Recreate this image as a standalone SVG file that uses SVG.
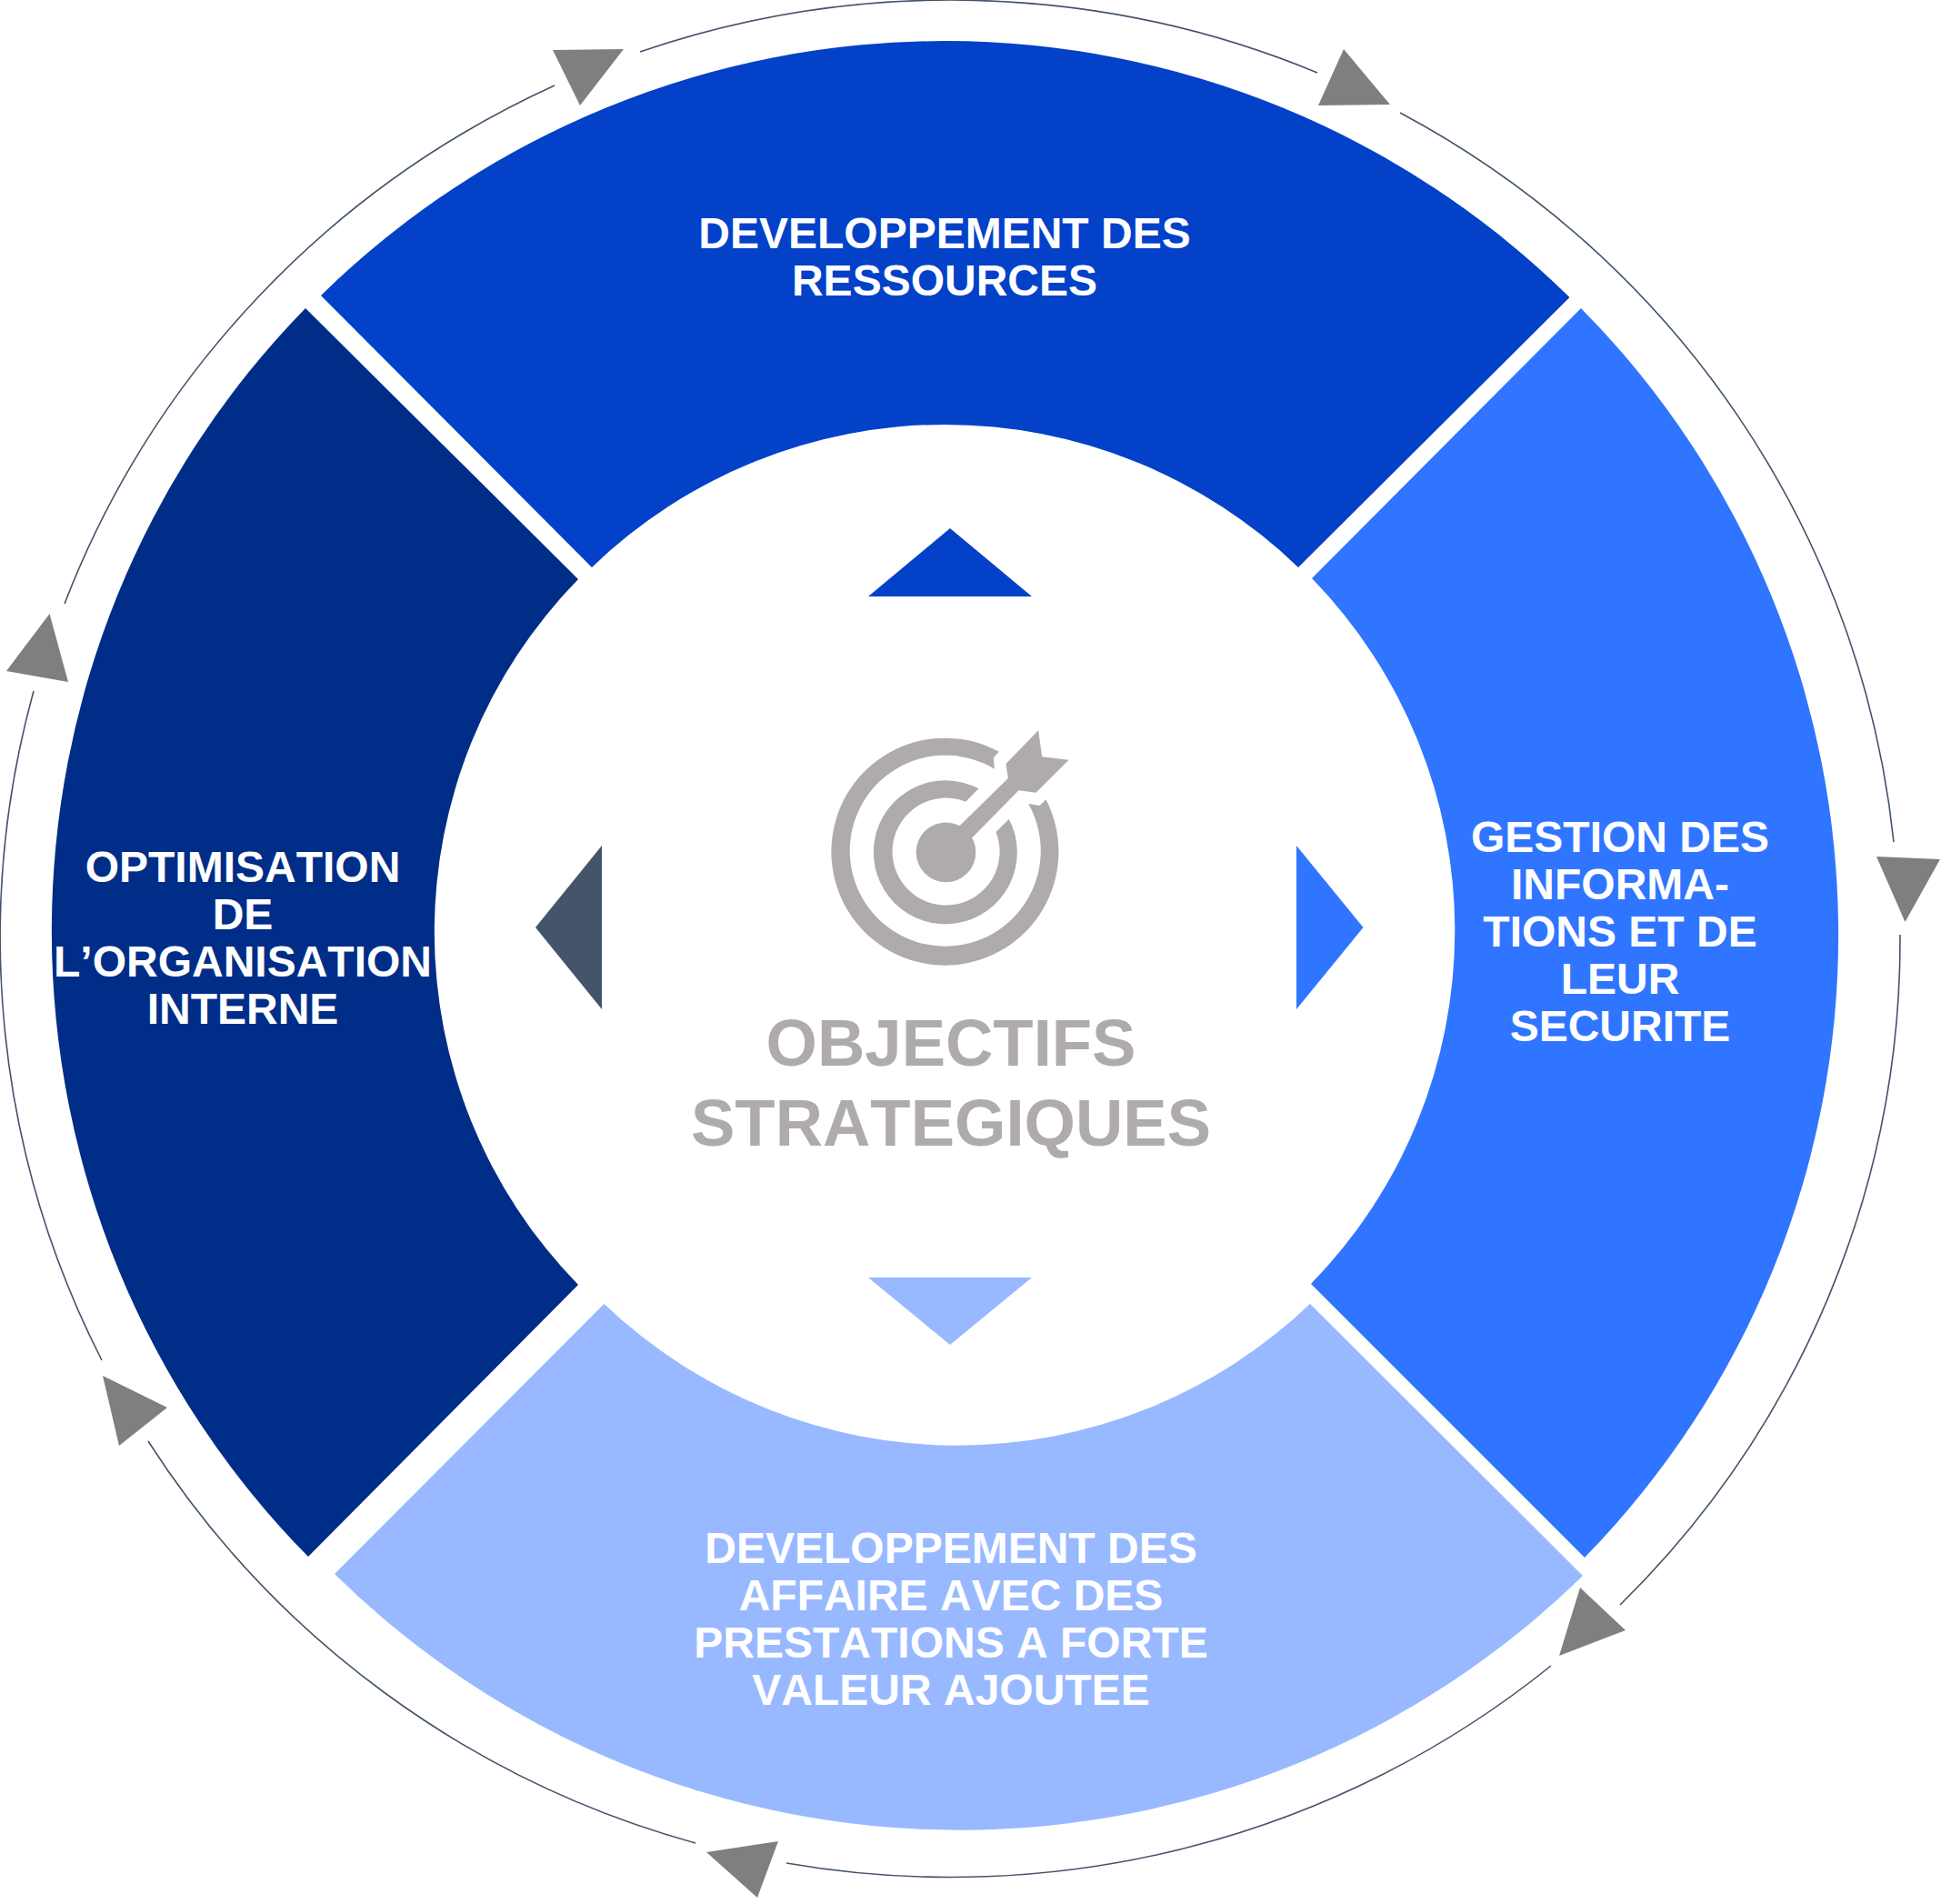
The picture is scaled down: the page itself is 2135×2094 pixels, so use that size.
<svg xmlns="http://www.w3.org/2000/svg" width="2135" height="2094" viewBox="0 0 2135 2094">
<style>
text{font-family:"Liberation Sans",Arial,sans-serif;font-weight:700;text-anchor:middle;font-kerning:none}
.lbl{font-size:48px;fill:#fff}
.ttl{font-size:72.500px;fill:#afabab}
.arc{fill:none;stroke:#44546a;stroke-width:1.6}
.tri{fill:#7f7f7f}
.ico{fill:#afabab}
</style>
<rect width="2135" height="2094" fill="#fff"/>
<g id="seg-top">
<path d="M353 325A980 980 0 0 1 1726.500 327L1428 624A559 559 0 0 0 651 624Z" fill="#0341c8"/>
<polygon points="1045,581 955,656 1135,656" fill="#0341c8"/>
<text class="lbl" x="1039" y="273">DEVELOPPEMENT DES</text>
<text class="lbl" x="1039" y="325">RESSOURCES</text>
</g>
<g id="seg-right">
<path d="M1739 339A980 980 0 0 1 1743 1713L1442 1412A556 556 0 0 0 1443 636Z" fill="#3075ff"/>
<polygon points="1426,930 1499.500,1020 1426,1110" fill="#3075ff"/>
<text class="lbl" x="1782" y="937">GESTION DES</text>
<text class="lbl" x="1782" y="989">INFORMA-</text>
<text class="lbl" x="1782" y="1041">TIONS ET DE</text>
<text class="lbl" x="1782" y="1093">LEUR</text>
<text class="lbl" x="1782" y="1145">SECURITE</text>
</g>
<g id="seg-bottom">
<path d="M1741 1733A980 980 0 0 1 368 1731L664.500 1434A562 562 0 0 0 1441 1434Z" fill="#98b9ff"/>
<polygon points="955,1405 1135,1405 1045,1479" fill="#98b9ff"/>
<text class="lbl" x="1046" y="1719">DEVELOPPEMENT DES</text>
<text class="lbl" x="1046" y="1771">AFFAIRE AVEC DES</text>
<text class="lbl" x="1046" y="1823">PRESTATIONS A FORTE</text>
<text class="lbl" x="1046" y="1875">VALEUR AJOUTEE</text>
</g>
<g id="seg-left">
<path d="M339 1712A980 980 0 0 1 336 339L636 637A555 555 0 0 0 636 1413Z" fill="#002d87"/>
<polygon points="662,930 589,1020 662,1110" fill="#44546a"/>
<text class="lbl" x="267" y="970">OPTIMISATION</text>
<text class="lbl" x="267" y="1022">DE</text>
<text class="lbl" x="267" y="1074">L’ORGANISATION</text>
<text class="lbl" x="267" y="1126">INTERNE</text>
</g>
<g id="center">
<g transform="translate(880.500 780) scale(.33333)">
<path class="ico" d="M655 140A375 375 0 1 0 810 298L790 318L752 312A315 315 0 1 1 640 197L637 160Z"/>
<path class="ico" d="M588 262A237 237 0 1 0 688 362L645 405A177 177 0 1 1 545 305Z"/>
<circle class="ico" cx="480" cy="472" r="98.500"/>
<polygon class="ico" points="525,385 685,228 678,180 785,70 797,157 885,167 777,275 720,268 568,422 500,460"/>
</g>
<text class="ttl" x="1046" y="1172">OBJECTIFS</text>
<text class="ttl" x="1046" y="1260">STRATEGIQUES</text>
</g>
<g id="connectors">
<path class="arc" d="M704 57A1044.300 1032 0 0 1 1449 80"/>
<path class="arc" d="M1540 124A1044.300 1032 0 0 1 2083 926"/>
<path class="arc" d="M2090 1028A1044.300 1032 0 0 1 1782 1765"/>
<path class="arc" d="M1706 1832A1044.300 1032 0 0 1 865 2049"/>
<path class="arc" d="M765 2027A1044.300 1032 0 0 1 163 1585"/>
<path class="arc" d="M112 1496A1044.300 1032 0 0 1 37 760"/>
<path class="arc" d="M71 664A1044.300 1032 0 0 1 610 94"/>
<polygon class="tri" points="608,55 686,54 638,116"/>
<polygon class="tri" points="1478,54 1529,115 1450,116"/>
<polygon class="tri" points="2064,942 2134,945 2095.500,1014"/>
<polygon class="tri" points="1738,1746 1788,1793 1715,1821"/>
<polygon class="tri" points="777,2037 856,2025 833,2087"/>
<polygon class="tri" points="113,1513 184,1548 131,1590"/>
<polygon class="tri" points="54.500,675 75,750 7,738"/>
</g>
</svg>
